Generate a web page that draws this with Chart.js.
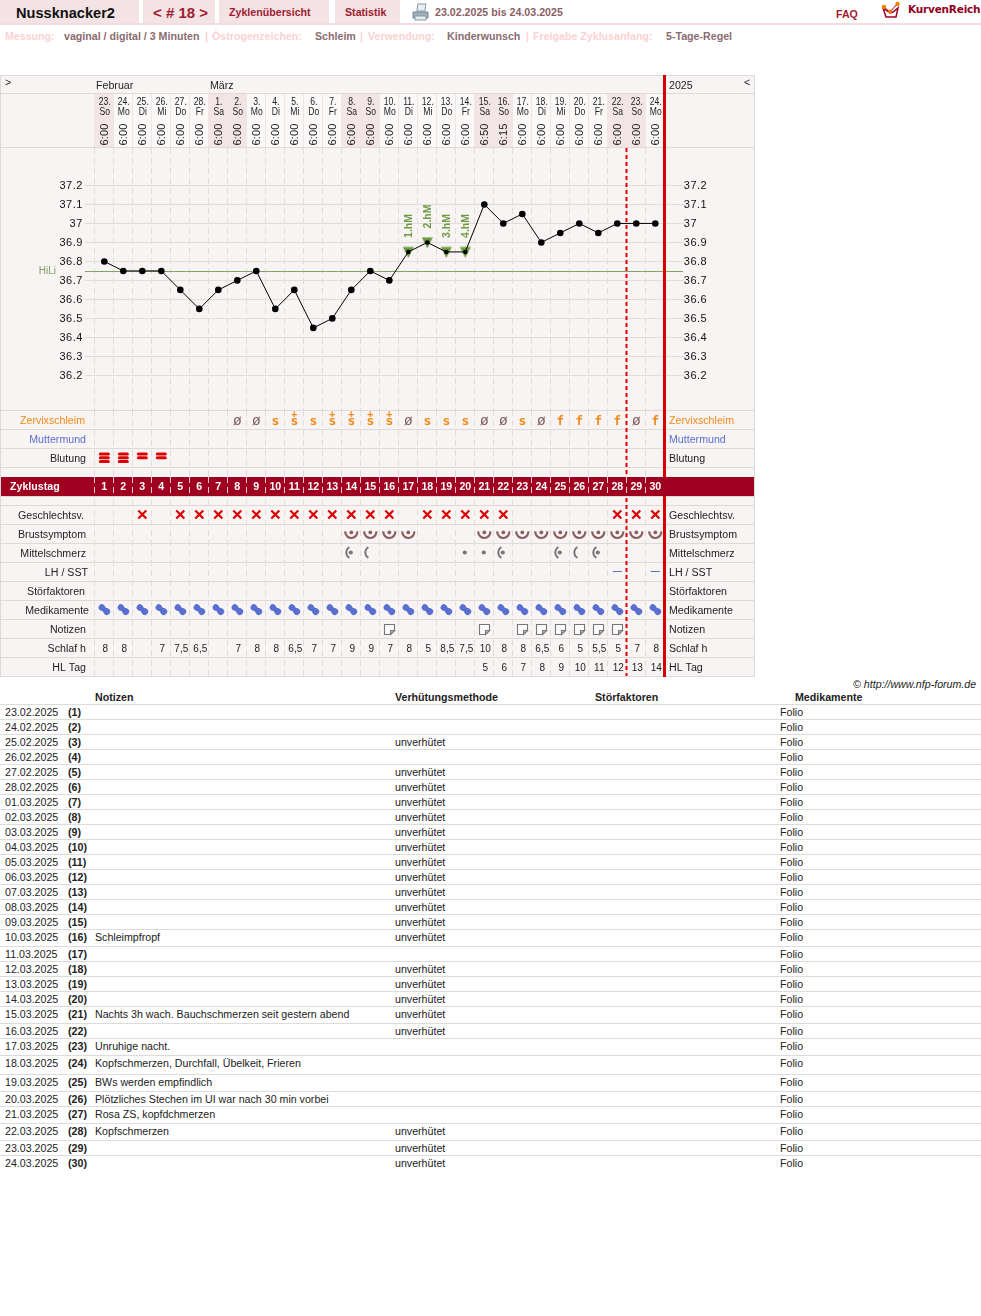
<!DOCTYPE html>
<html lang="de"><head><meta charset="utf-8"><title>Nussknacker2</title>
<script src="https://cdn.jsdelivr.net/npm/chart.js@4/dist/chart.umd.min.js"></script>
<style>
html,body{margin:0;padding:0;background:#fff;width:981px;height:1316px;overflow:hidden}
body{position:relative;font:10.65px "Liberation Sans",Arial,sans-serif;color:#222}
.t{position:absolute;white-space:nowrap;line-height:14px;height:14px}
.b{position:absolute}
canvas{position:absolute;left:0;top:75px}
svg{position:absolute}
</style></head><body>
<canvas id="c" width="755" height="603"></canvas>
<svg style="left:412px;top:3px" width="17" height="18" viewBox="0 0 17 18"><rect x="4" y="1" width="8" height="7" fill="#e8eef2" stroke="#8a9aa5" transform="skewX(-8) translate(2 0)"/><path d="M1 9h15v6H1z" fill="#9fb0bb" stroke="#76868f"/><rect x="3" y="13" width="11" height="4" fill="#e6ecef" stroke="#8a9aa5"/></svg>
<svg style="left:881px;top:1px" width="20" height="19" viewBox="0 0 20 19"><path d="M2 7l3 9h10l2-9-5 4-3 1z" fill="#fff" stroke="#a00020" stroke-width="1.5"/><path d="M3 6l6 5 8-9" fill="none" stroke="#a00020" stroke-width="1"/><circle cx="3" cy="6" r="2.2" fill="#f08000"/><circle cx="9" cy="10.5" r="2" fill="#f08000"/><circle cx="16.5" cy="3" r="2.2" fill="#f08000"/></svg>
<script>
// ---------- chart data ----------
const dayDates = ['23.','24.','25.','26.','27.','28.','1.','2.','3.','4.','5.','6.','7.','8.','9.','10.','11.','12.','13.','14.','15.','16.','17.','18.','19.','20.','21.','22.','23.','24.'];
const weekdays = ['So','Mo','Di','Mi','Do','Fr','Sa','So','Mo','Di','Mi','Do','Fr','Sa','So','Mo','Di','Mi','Do','Fr','Sa','So','Mo','Di','Mi','Do','Fr','Sa','So','Mo'];
const times = ['6:00','6:00','6:00','6:00','6:00','6:00','6:00','6:00','6:00','6:00','6:00','6:00','6:00','6:00','6:00','6:00','6:00','6:00','6:00','6:00','6:50','6:15','6:00','6:00','6:00','6:00','6:00','6:00','6:00','6:00'];
const temps = [36.8,36.75,36.75,36.75,36.65,36.55,36.65,36.7,36.75,36.55,36.65,36.45,36.5,36.65,36.75,36.7,36.85,36.9,36.85,36.85,37.1,37.0,37.05,36.9,36.95,37.0,36.95,37.0,37.0,37.0];
const tempTicks = [37.2,37.1,37.0,36.9,36.8,36.7,36.6,36.5,36.4,36.3,36.2];
const coverLine = 36.75;
const hmDays = [17,18,19,20];
const hmLabels = ['1.hM','2.hM','3.hM','4.hM'];
const zervix = ['','','','','','','','ø','ø','s','s+','s','s+','s+','s+','s+','ø','s','s','s','ø','ø','s','ø','f','f','f','f','ø','f'];
const blutung = [3,3,2,2];
const geschlechtsv = [3,5,6,7,8,9,10,11,12,13,14,15,16,18,19,20,21,22,28,29,30];
const brustsymptom = [14,15,16,17,21,22,23,24,25,26,27,28,29,30];
const mittelschmerz = {14:'ad',15:'a',20:'d',21:'d',22:'ad',25:'ad',26:'a',27:'ad'};
const lhSst = [28,30];
const notizTage = [16,21,23,24,25,26,27,28];
const schlaf = ['8','8','','7','7,5','6,5','','7','8','8','6,5','7','7','9','9','7','8','5','8,5','7,5','10','8','8','6,5','6','5','5,5','5','7','8'];
const hlTag = ['','','','','','','','','','','','','','','','','','','','','5','6','7','8','9','10','11','12','13','14'];
const weekendDays = [1,7,8,14,15,21,22,28,29];
const leftLabels = ['Zervixschleim','Muttermund','Blutung','Geschlechtsv.','Brustsymptom','Mittelschmerz','LH / SST','Störfaktoren','Medikamente','Notizen','Schlaf h','HL Tag'];
const labelColors = ['#f08a1c','#5a70d0','#222','#222','#222','#222','#222','#222','#222','#222','#222','#222'];
// ---------- table data ----------
const tableDates = ['23.02.2025','24.02.2025','25.02.2025','26.02.2025','27.02.2025','28.02.2025','01.03.2025','02.03.2025','03.03.2025','04.03.2025','05.03.2025','06.03.2025','07.03.2025','08.03.2025','09.03.2025','10.03.2025','11.03.2025','12.03.2025','13.03.2025','14.03.2025','15.03.2025','16.03.2025','17.03.2025','18.03.2025','19.03.2025','20.03.2025','21.03.2025','22.03.2025','23.03.2025','24.03.2025'];
const tableNotes = {16:'Schleimpfropf',21:'Nachts 3h wach. Bauchschmerzen seit gestern abend',23:'Unruhige nacht.',24:'Kopfschmerzen, Durchfall, Übelkeit, Frieren',25:'BWs werden empfindlich',26:'Plötzliches Stechen im UI war nach 30 min vorbei',27:'Rosa ZS, kopfdchmerzen',28:'Kopfschmerzen'};
const unverhuetet = [3,5,6,7,8,9,10,11,12,13,14,15,16,18,19,20,21,22,28,29,30];
const medikament = 'Folio';

// ---------- page text ----------
function box(x,y,w,h,c){const d=document.createElement('div');d.className='b';d.style.cssText=`left:${x}px;top:${y}px;width:${w}px;height:${h}px;background:${c}`;document.body.appendChild(d);}
function put(s,x,y,st){const d=document.createElement('div');d.className='t';d.textContent=s;d.style.cssText=`left:${x}px;top:${y-7}px;${st||''}`;document.body.appendChild(d);}
box(0,0,139,23,'#f3e3e4');box(143,0,72,23,'#f3e3e4');box(219,0,110,23,'#f3e3e4');box(335,0,65,23,'#f3e3e4');box(0,23,981,2,'#f3dcde');
put('Nussknacker2',16,12.5,'font-weight:bold;font-size:14.6px;color:#111');
put('< # 18 >',153,12.5,'font-weight:bold;font-size:15px;color:#a01c30');
const red='font-weight:bold;color:#a01c30;';
put('Zyklenübersicht',229,12,red);put('Statistik',345,12,red);
put('23.02.2025 bis 24.03.2025',435,12,'font-weight:bold;color:#8b5f65');
put('FAQ',836,14,red);
put('KurvenReich',908,10,'font:bold 10.5px "DejaVu Sans",sans-serif;letter-spacing:-.2px;color:#900020');
const pale='font-weight:bold;color:#fbd2d2;',dark='font-weight:bold;color:#8b6a70;';
[['Messung:',5,pale],['vaginal / digital / 3 Minuten',64,dark],['|',205,pale],['Östrogenzeichen:',212,pale],['Schleim',315,dark],['|',360,pale],['Verwendung:',368,pale],['Kinderwunsch',447,dark],['|',526,pale],['Freigabe Zyklusanfang:',533,pale],['5-Tage-Regel',666,dark]].forEach(a=>put(a[0],a[1],36,a[2]));
put('© http://www.nfp-forum.de',853,684,'font-style:italic;color:#222');
[['Notizen',95],['Verhütungsmethode',395],['Störfaktoren',595],['Medikamente',795]].forEach(a=>put(a[0],a[1],697,'font-weight:bold;color:#222'));
const tableTops=[704,719,734,749,764,779,794,809,824,839,854,869,884,899,914,929,946,961,976,991,1006,1023,1038,1055,1074,1091,1106,1123,1140,1155];
tableDates.forEach((d,i)=>{const n=i+1,y=tableTops[i]+8;
 box(0,tableTops[i],981,1,'#dcdcdc');
 put(d,5,y);put('('+n+')',68,y,'font-weight:bold');
 if(tableNotes[n])put(tableNotes[n],95,y);
 if(unverhuetet.includes(n))put('unverhütet',395,y);
 put(medikament,780,y);
});

// ---------- chart ----------
const FONT='"Liberation Sans",Arial,sans-serif';
const TXT='10.65px '+FONT;
const rowLines=[335,354,373,392,402,421,430,449,468,487,506,525,544,563,582,601]; // canvas y of row rules
const labelRows=[335,354,373,430,449,468,487,506,525,544,563,582];
const labelRight=[85,86,86,84,86,86,88,85,89,86,86,86];
const GRID='#e2dddd',LINE='#dfdada',BG='#f9f4f4';
const days=dayDates.map((d,i)=>i+1);
// downward triangle marker, 11 wide and 11 tall
const hmMarker=document.createElement('canvas');hmMarker.width=13;hmMarker.height=13;
(function(){const m=hmMarker.getContext('2d');m.fillStyle='#6a9a3c';m.beginPath();m.moveTo(1,1.5);m.lineTo(12,1.5);m.lineTo(6.5,12.5);m.closePath();m.fill();})();
const pageGrid={
 id:'pageGrid',
 beforeDraw(ch){
  const c=ch.ctx,x=ch.scales.x,w=x.getPixelForValue(1)-x.getPixelForValue(0);
  c.save();
  c.fillStyle=BG;c.fillRect(0,0,755,602);
  days.forEach((n,i)=>{const l=x.getPixelForValue(i)-w/2;
   c.fillStyle=weekendDays.includes(n)?'#f3e5e5':'#fbf8f8';
   c.fillRect(Math.floor(l),19,19,54);
   if(!weekendDays.includes(n)){c.fillStyle='#ece6e6';c.fillRect(Math.floor(l),19,1,54);}
  });
  c.fillStyle=LINE;
  [18,72].forEach(y=>c.fillRect(0,y,755,1));
  rowLines.forEach(y=>c.fillRect(0,y,755,1));
  c.strokeStyle=LINE;c.lineWidth=1;c.strokeRect(.5,.5,754,601);
  c.strokeStyle=GRID;c.setLineDash([6,4]);
  days.concat([31]).forEach((n,i)=>{const px=Math.floor(x.getPixelForValue(0)-w/2+i*w)+.5;
   c.beginPath();c.moveTo(px,335);c.lineTo(px,601);c.stroke();});
  c.setLineDash([]);
  c.restore();
  c.letterSpacing='0.5px'; // y tick labels are spaced out in the reference
 },
 beforeDatasetsDraw(ch){
  const c=ch.ctx,x=ch.scales.x,y=ch.scales.y,w=x.getPixelForValue(1)-x.getPixelForValue(0);
  c.letterSpacing='0px';
  c.save();
  const py=Math.round(y.getPixelForValue(coverLine))+.5;
  c.strokeStyle='#86a068';c.lineWidth=1;c.beginPath();c.moveTo(85,py);c.lineTo(683,py);c.stroke();
  c.fillStyle='#7f9f5f';c.font='10px '+FONT;c.textAlign='right';c.textBaseline='middle';c.fillText('HiLi',56,py);
  const dash=x.getPixelForValue(27)+w/2-.3;
  c.strokeStyle='#e00000';c.lineWidth=2;c.setLineDash([4,3]);c.beginPath();c.moveTo(dash,73);c.lineTo(dash,601);c.stroke();c.setLineDash([]);
  c.restore();
 },
 afterDraw(ch){
  const c=ch.ctx,x=ch.scales.x,y=ch.scales.y,w=x.getPixelForValue(1)-x.getPixelForValue(0);
  const cx=n=>x.getPixelForValue(n-1);
  c.save();
  // month / year header
  c.textBaseline='middle';c.textAlign='left';c.fillStyle='#222';c.font=TXT;
  c.fillText('Februar',96,11);c.fillText('März',210,11);c.fillText('2025',669,11);
  c.fillText('>',5,8);c.fillText('<',744,8);
  // day header
  c.textAlign='center';
  days.forEach((n,i)=>{
   c.fillStyle='#222';c.font='11px '+FONT;
   c.save();c.translate(cx(n)+.5,0);c.scale(.78,1);c.fillText(dayDates[i],0,27);c.fillText(weekdays[i],0,36.5);c.restore();
   c.save();c.translate(cx(n)+.3,59.5);c.rotate(-Math.PI/2);c.font='11.2px '+FONT;c.fillText(times[i],0,0);c.restore();
  });
  // hM labels
  c.font='bold 10.5px '+FONT;c.fillStyle='#6f9a45';c.textAlign='left';
  hmDays.forEach((n,i)=>{c.save();c.translate(cx(n)+1,y.getPixelForValue(temps[n-1])-14);c.rotate(-Math.PI/2);c.fillText(hmLabels[i],0,0);c.restore();});
  // solid red line
  c.fillStyle='#d40000';c.fillRect(663,0,3,602);
  // band
  c.fillStyle='#a00020';c.fillRect(1,402,753,19);
  c.fillStyle='#fff';c.font='bold 10.65px '+FONT;c.textAlign='left';c.fillText('Zyklustag',10,412);
  c.textAlign='center';
  days.forEach(n=>{c.fillText(String(n),cx(n),412);});
  c.strokeStyle='#e9c9cf';c.lineWidth=1;c.setLineDash([6,4]);
  days.forEach((n,i)=>{const px=Math.floor(cx(n)-w/2)+.5;c.beginPath();c.moveTo(px,402);c.lineTo(px,421);c.stroke();});
  c.setLineDash([]);
  // row labels
  leftLabels.forEach((s,i)=>{c.font=TXT;c.fillStyle=labelColors[i];c.textAlign='right';c.fillText(s,labelRight[i],labelRows[i]+11);c.textAlign='left';c.fillText(s,669,labelRows[i]+11);});
  // Zervixschleim
  c.textAlign='center';
  zervix.forEach((s,i)=>{if(!s)return;const px=cx(i+1),ch0=s[0];
   c.fillStyle=ch0==='ø'?'#806060':'#f08a1c';
   c.font=ch0==='ø'?'14.5px "DejaVu Sans Mono",monospace':(ch0==='s'?'bold 13px "DejaVu Sans Mono",monospace':'bold 12.5px "DejaVu Sans Mono",monospace');
   c.fillText(ch0,px,ch0==='f'?346.5:346.4);
   if(s.length>1){c.font='bold 10px "DejaVu Sans Mono",monospace';c.fillText('+',px,339.3);}
  });
  // Blutung
  c.strokeStyle='#dd0000';c.lineWidth=3;c.lineCap='round';
  blutung.forEach((b,i)=>{for(let k=0;k<b;k++){const py=379+k*3.7;c.beginPath();c.moveTo(cx(i+1)-4,py);c.lineTo(cx(i+1)+4,py);c.stroke();}});
  // Geschlechtsverkehr
  c.strokeStyle='#dd0000';c.lineWidth=2.2;c.lineCap='butt';
  geschlechtsv.forEach(n=>{const a=cx(n),b=439.5;c.beginPath();c.moveTo(a-4,b-4);c.lineTo(a+4,b+4);c.moveTo(a+4,b-4);c.lineTo(a-4,b+4);c.stroke();});
  // Brustsymptom
  brustsymptom.forEach(n=>{c.strokeStyle='#8b5f5f';c.fillStyle='#8b5f5f';c.lineWidth=2.2;c.beginPath();c.arc(cx(n),457,6,-.1,Math.PI+.1);c.stroke();c.beginPath();c.arc(cx(n),457.4,1.9,0,7);c.fill();});
  // Mittelschmerz
  Object.keys(mittelschmerz).forEach(k=>{const n=+k,m=mittelschmerz[k];c.strokeStyle='#777';c.fillStyle='#777';c.lineWidth=2;
   if(m.includes('a')){c.beginPath();c.arc(cx(n)+1,477.5,6,Math.PI*.66,Math.PI*1.34);c.stroke();}
   if(m.includes('d')){c.beginPath();c.arc(cx(n)-.5,477.5,2.1,0,7);c.fill();}
  });
  // LH
  c.strokeStyle='#5a70c0';c.lineWidth=1;lhSst.forEach(n=>{c.beginPath();c.moveTo(cx(n)-4.5,496.5);c.lineTo(cx(n)+4.5,496.5);c.stroke();});
  // Medikamente
  days.forEach(n=>{c.save();c.translate(cx(n),534.5);c.rotate(Math.PI*.22);c.fillStyle='#5a70d0';
   c.beginPath();c.arc(-3.2,0,3.2,0,7);c.fill();c.beginPath();c.arc(3.2,0,3.4,0,7);c.fill();c.fillRect(-3.2,-2.4,6.4,4.8);c.restore();});
  // Notizen
  notizTage.forEach(n=>{const a=Math.round(cx(n)-5.5)+.5,b=549.5;c.strokeStyle='#777';c.fillStyle='#fbfbfb';c.lineWidth=1.1;
   c.beginPath();c.moveTo(a,b);c.lineTo(a+10,b);c.lineTo(a+10,b+6);c.lineTo(a+6,b+10);c.lineTo(a,b+10);c.closePath();c.fill();c.stroke();
   c.fillStyle='#c8c8c8';c.beginPath();c.moveTo(a+10,b+6);c.lineTo(a+6,b+6);c.lineTo(a+6,b+10);c.closePath();c.fill();c.stroke();});
  // Schlaf, HL Tag
  c.fillStyle='#222';c.font='10px '+FONT;
  schlaf.forEach((s,i)=>{if(s)c.fillText(s,cx(i+1)+1,574);});
  hlTag.forEach((s,i)=>{if(s)c.fillText(s,cx(i+1)+1,593);});
  c.restore();
 }
};
const tickFont={family:FONT,size:11};
new Chart(document.getElementById('c'),{
 type:'line',
 data:{labels:dayDates,datasets:[
  {label:'Temperatur',data:temps,order:1,borderColor:'#000',borderWidth:1,tension:0,backgroundColor:'#000',
   pointBackgroundColor:'#000',pointBorderWidth:0,pointRadius:temps.map((t,i)=>hmDays.includes(i+1)?2.3:3.3)},
  {label:'Hochlage',data:temps.map((t,i)=>hmDays.includes(i+1)?t:null),order:2,showLine:false,
   pointStyle:hmMarker,pointRadius:6.5}
 ]},
 options:{
  responsive:false,animation:false,devicePixelRatio:1,events:[],
  layout:{padding:{top:73,bottom:268,left:0,right:0}},
  plugins:{legend:{display:false},tooltip:{enabled:false},title:{display:false}},
  scales:{
   x:{type:'category',offset:true,position:'bottom',ticks:{display:false},border:{display:false,dash:[6,4]},
      grid:{offset:true,color:GRID,drawTicks:false},
      afterFit(s){s.height=0;}},
   y:{type:'linear',position:'left',min:36.018,max:37.397,
      afterBuildTicks(s){s.ticks=tempTicks.map(v=>({value:v}));},
      afterFit(s){s.width=94.8;},
      border:{display:false},grid:{color:GRID,drawOnChartArea:true,drawTicks:true,tickLength:10},
      ticks:{font:tickFont,color:'#111',padding:2,labelOffset:1,autoSkip:false,callback:v=>String(v)}},
   y2:{type:'linear',position:'right',min:36.018,max:37.397,
      afterBuildTicks(s){s.ticks=tempTicks.map(v=>({value:v}));},
      afterFit(s){s.width=90.2;},
      border:{display:false},grid:{color:GRID,drawOnChartArea:false,drawTicks:true,tickLength:19},
      ticks:{font:tickFont,color:'#111',padding:0,labelOffset:1,autoSkip:false,callback:v=>String(v)}}
  }
 },
 plugins:[pageGrid]
});
</script>
</body></html>
